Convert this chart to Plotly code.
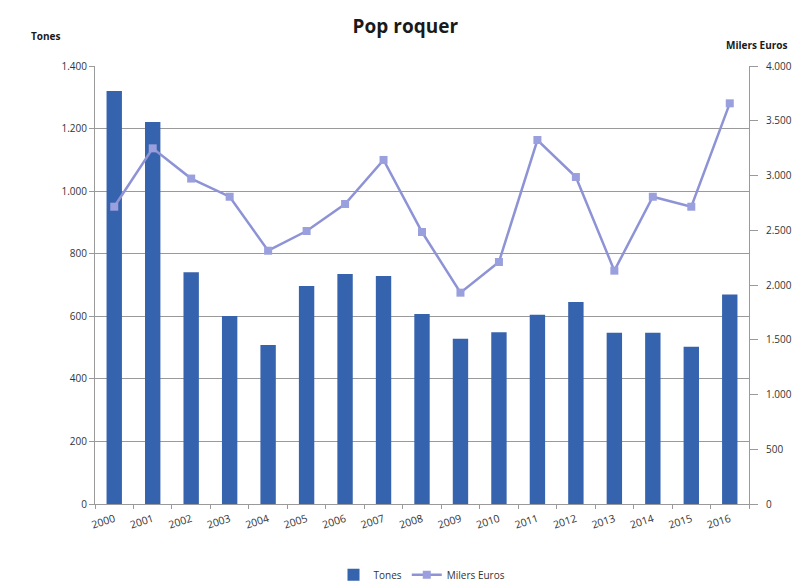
import plotly.graph_objects as go

# Annual data, 2000-2016
years = [str(y) for y in range(2000, 2017)]
tones = [1320, 1221, 741, 601, 508, 697, 735, 729, 607, 528, 549, 605, 646, 547, 547, 503, 670]
milers_euros = [2715, 3248, 2972, 2806, 2313, 2493, 2740, 3142, 2484, 1930, 2210, 3324, 2986, 2131, 2806, 2715, 3659]

left_ticks = [0, 200, 400, 600, 800, 1000, 1200, 1400]
right_ticks = [0, 500, 1000, 1500, 2000, 2500, 3000, 3500, 4000]

BAR_COLOR = "#3663ad"
LINE_COLOR = "#8e93d6"
GRID = "#9a9a9a"
FONT = "Open Sans"

fig = go.Figure()
fig.add_trace(go.Bar(
    x=years, y=tones, name="Tones",
    marker=dict(color=BAR_COLOR, line=dict(width=0)),
    width=0.4, yaxis="y",
))
fig.add_trace(go.Scatter(
    x=years, y=milers_euros, name="Milers Euros",
    mode="lines+markers",
    line=dict(color=LINE_COLOR, width=2.5),
    marker=dict(symbol="square", size=8, color="#9a9fdd"),
    yaxis="y2",
))

fig.update_layout(
    width=801, height=583,
    margin=dict(l=95, r=52, t=66, b=79),
    paper_bgcolor="white", plot_bgcolor="white",
    separators=",.",
    font=dict(family=FONT, size=10, color="#333333"),
    title=dict(text="<b>Pop roquer</b>", x=0.506, xanchor="center",
               y=0.954, yanchor="middle",
               font=dict(family=FONT, size=19, color="#1a1a1a")),
    showlegend=True,
    legend=dict(orientation="h", x=0.5, xanchor="center",
                yref="container", y=0.014, yanchor="middle",
                font=dict(family=FONT, size=10, color="#333333"),
                traceorder="normal"),
    bargap=0.6,
    xaxis=dict(
        type="category", showgrid=False, automargin=False,
        showline=True, linecolor=GRID, linewidth=1,
        ticks="outside", ticklen=4, tickcolor=GRID, tickson="boundaries",
        ticklabelstandoff=4,
        tickangle=-18, tickfont=dict(size=10.5, color="#333333"),
        range=[-0.5, 16.5],
    ),
    yaxis=dict(
        range=[0, 1400], tickvals=left_ticks, tickformat=",d", automargin=False,
        showgrid=True, gridcolor=GRID, gridwidth=1,
        showline=True, linecolor=GRID, linewidth=1,
        ticks="outside", ticklen=5, tickcolor=GRID,
        tickfont=dict(size=10, color="#333333"), zeroline=False,
    ),
    yaxis2=dict(
        range=[0, 4000], tickvals=right_ticks, tickformat=",d", automargin=False,
        overlaying="y", side="right", showgrid=False,
        showline=True, linecolor=GRID, linewidth=1,
        ticks="outside", ticklen=8, tickcolor=GRID, ticklabelstandoff=6,
        tickfont=dict(size=10, color="#333333"), zeroline=False,
    ),
    annotations=[
        dict(text="<b>Tones</b>", xref="paper", yref="paper", x=-0.076, y=1.068,
             xanchor="center", yanchor="middle", showarrow=False,
             font=dict(family=FONT, size=10, color="#1a1a1a")),
        dict(text="<b>Milers Euros</b>", xref="paper", yref="paper", x=1.012, y=1.048,
             xanchor="center", yanchor="middle", showarrow=False,
             font=dict(family=FONT, size=10, color="#1a1a1a")),
    ],
)

fig.write_html("out.html")
